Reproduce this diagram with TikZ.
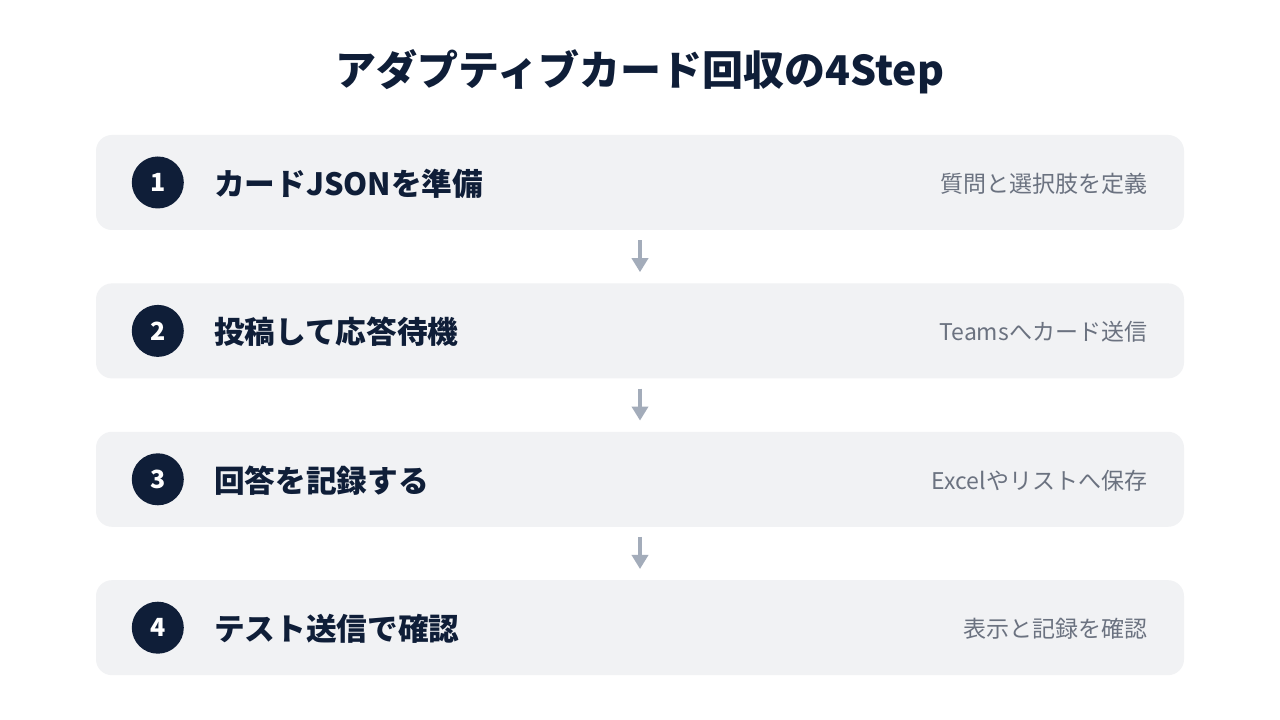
\documentclass[tikz,border=0pt]{standalone}
\usepackage{fontspec}
\setmainfont{Noto Sans CJK JP}
\usetikzlibrary{arrows.meta,positioning}
\definecolor{navy}{HTML}{0F1E38}
\definecolor{boxgray}{HTML}{F1F2F4}
\definecolor{subgray}{HTML}{6B7280}
\definecolor{arrowgray}{HTML}{A3ACBA}
\begin{document}
\begin{tikzpicture}[x=1pt,y=1pt]

  \tikzset{step box/.style={rectangle, fill=boxgray, rounded corners=16pt,
  		minimum width=1088pt, minimum height=95pt, inner sep=0pt}, }
  \tikzset{num node/.style={circle, fill=navy, text=white, minimum size=52pt,
  		inner sep=0pt, font=\fontsize{25}{30}\selectfont\bfseries}, }
  \tikzset{main text/.style={anchor=west, text=navy, inner sep=0pt,
  		font=\fontsize{30.7}{37}\selectfont\bfseries}, }
  \tikzset{sub text/.style={anchor=east, text=subgray, inner sep=0pt,
  		font=\fontsize{23}{27}\selectfont}, }
  \tikzset{linea/.style={-{Triangle[width=16pt,length=14pt]}, draw=arrowgray,
  		line width=4pt, shorten <=10pt, shorten >=11pt}, }

\useasboundingbox[fill=white] (0,0) rectangle (1280,720);

\node[text=navy, font=\fontsize{41}{49}\selectfont\bfseries] (title) at (640,648) {アダプティブカード回収の4Step};

\node[step box] (s1) at (640,537.5) {};
\node[step box] (s2) [below=53pt of s1] {};
\node[step box] (s3) [below=53pt of s2] {};
\node[step box] (s4) [below=53pt of s3] {};

% step contents
\foreach \n/\main/\sub in {1/カードJSONを準備/質問と選択肢を定義,
    2/投稿して応答待機/Teamsへカード送信,
    3/回答を記録する/Excelやリストへ保存,
    4/テスト送信で確認/表示と記録を確認}{
  \node[num node] (c\n) [xshift=62pt] at (s\n.west) {\n};
  \node[main text] (t\n) [xshift=118pt, yshift=-1pt] at (s\n.west) {\main};
  \node[sub text] (d\n) [xshift=-37pt, yshift=-1pt] at (s\n.east) {\sub};
}

\foreach \x/\y in {s1/s2,s2/s3,s3/s4}
  \draw[linea] (\x.south) -- (\y.north);
%%
\end{tikzpicture}
\end{document}
